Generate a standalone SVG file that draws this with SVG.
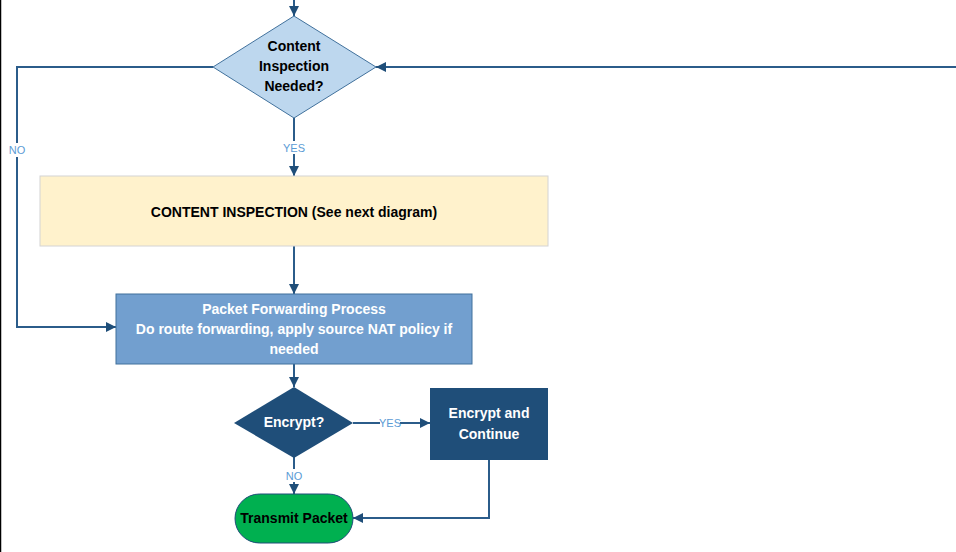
<svg xmlns="http://www.w3.org/2000/svg" width="956" height="552" viewBox="0 0 956 552">
<defs>
<marker id="arr" viewBox="0 0 10 10" refX="10" refY="5" markerWidth="10" markerHeight="10" markerUnits="userSpaceOnUse" orient="auto">
<path d="M0,0 L10,5 L0,10 Z" fill="#1F4E79"/>
</marker>
<style>
.c{fill:none;stroke:#2B5C8A;stroke-width:2}
.lbl{font-family:"Liberation Sans",Arial,sans-serif;font-size:11px;fill:#5B9BD5;text-anchor:middle}
.t{font-family:"Liberation Sans",Arial,sans-serif;font-size:14px;font-weight:bold;text-anchor:middle}
.w{fill:#FFFFFF}
.k{fill:#000000}
</style>
</defs>
<rect x="0" y="0" width="956" height="552" fill="#FFFFFF"/>
<line x1="0.5" y1="0" x2="0.5" y2="552" stroke="#000000" stroke-width="1.5"/>
<g id="connectors">
<line class="c" x1="294" y1="0" x2="294" y2="16" marker-end="url(#arr)"/>
<line class="c" x1="956" y1="67" x2="376" y2="67" marker-end="url(#arr)"/>
<polyline class="c" points="213,67 17,67 17,143"/>
<polyline class="c" points="17,157 17,327 116,327" marker-end="url(#arr)"/>
<line class="c" x1="294" y1="118" x2="294" y2="141"/>
<line class="c" x1="294" y1="154" x2="294" y2="176" marker-end="url(#arr)"/>
<line class="c" x1="294" y1="246" x2="294" y2="294" marker-end="url(#arr)"/>
<line class="c" x1="294" y1="364" x2="294" y2="387" marker-end="url(#arr)"/>
<line class="c" x1="353" y1="423" x2="380" y2="423"/>
<line class="c" x1="400" y1="423" x2="430" y2="423" marker-end="url(#arr)"/>
<line class="c" x1="294" y1="457" x2="294" y2="469"/>
<line class="c" x1="294" y1="482" x2="294" y2="494" marker-end="url(#arr)"/>
<polyline class="c" points="489,460 489,518 353,518" marker-end="url(#arr)"/>
<text class="lbl" x="17" y="154">NO</text>
<text class="lbl" x="294" y="152">YES</text>
<text class="lbl" x="390" y="427">YES</text>
<text class="lbl" x="294" y="480">NO</text>
</g>
<g id="n_inspect_needed">
<polygon points="294,16 376,67 294,118 213,67" fill="#BDD7EE" stroke="#41719C" stroke-width="1"/>
<text class="t k" x="294" y="51">Content</text>
<text class="t k" x="294" y="71">Inspection</text>
<text class="t k" x="294" y="91">Needed?</text>
</g>
<g id="n_content_inspection">
<rect x="40" y="176" width="508" height="70" fill="#FFF2CC" stroke="#D4D4D4" stroke-width="1"/>
<text class="t k" x="294" y="217">CONTENT INSPECTION (See next diagram)</text>
</g>
<g id="n_forwarding">
<rect x="116" y="294" width="356" height="70" fill="#729FCF" stroke="#41719C" stroke-width="1"/>
<text class="t w" x="294" y="314">Packet Forwarding Process</text>
<text class="t w" x="294" y="334">Do route forwarding, apply source NAT policy if</text>
<text class="t w" x="294" y="354">needed</text>
</g>
<g id="n_encrypt_q">
<polygon points="294,387 353,423 294,458 234,423" fill="#1F4E79"/>
<text class="t w" x="294" y="427">Encrypt?</text>
</g>
<g id="n_encrypt">
<rect x="430" y="388" width="118" height="72" fill="#1F4E79"/>
<text class="t w" x="489" y="418">Encrypt and</text>
<text class="t w" x="489" y="439">Continue</text>
</g>
<g id="n_transmit">
<rect x="235" y="494" width="118" height="49" rx="24.5" ry="24.5" fill="#00B050" stroke="#1F4E79" stroke-width="1"/>
<text class="t k" x="294" y="523" style="font-size:14px">Transmit Packet</text>
</g>
</svg>
